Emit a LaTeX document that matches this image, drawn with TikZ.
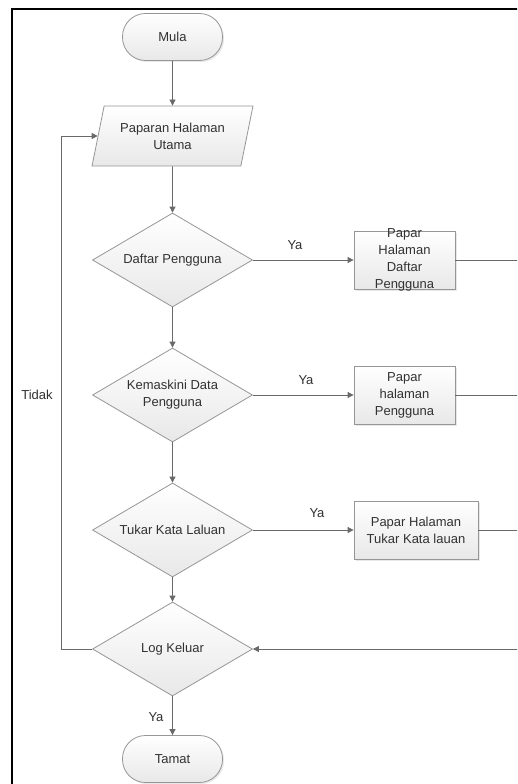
\documentclass[tikz,border=0pt]{standalone}
\usepackage{fontspec}
\setmainfont{Liberation Sans}
\usetikzlibrary{shapes.geometric,arrows.meta,shadows}
\definecolor{linegray}{RGB}{105,105,105}
\definecolor{edgegray}{RGB}{150,150,150}
\definecolor{txtgray}{RGB}{50,50,50}
\definecolor{fillbot}{RGB}{232,232,232}
\begin{document}
\begin{tikzpicture}[x=1pt,y=-1pt,
  every node/.style={font=\fontsize{13}{17}\selectfont, text=txtgray},
  shade/.style={draw=edgegray, line width=0.8pt, top color=white, bottom color=fillbot},
  soft/.style={drop shadow={opacity=0.18, shadow xshift=1.5pt, shadow yshift=-1.5pt}},
  terminal/.style={shade, soft, rectangle, rounded corners=23pt, minimum width=100pt, minimum height=47pt, inner sep=0pt},
  iobox/.style={shade, trapezium, trapezium left angle=70.7, trapezium right angle=109.3,
    trapezium stretches=true, minimum width=161pt, minimum height=60pt, inner sep=0pt, align=center},
  decision/.style={shade, diamond, aspect=1.7, minimum width=160pt, minimum height=94pt, inner sep=0pt, align=center},
  process/.style={shade, soft, rectangle, minimum height=58pt, inner sep=0pt, align=center},
  flow/.style={draw=linegray, line width=0.8pt, -{Triangle[length=6pt,width=6pt]}},
  plain/.style={draw=linegray, line width=0.8pt},
  tag/.style={inner sep=0pt}
]
\useasboundingbox (0,0) rectangle (517,784);
\clip (0,0) rectangle (517,784);
\fill[white] (0,0) rectangle (517,784);

% outer frame
\draw[black, line width=2pt] (12,800) -- (12,9) -- (540,9);

% main column
\node[terminal] (mula) at (172.5,37) {Mula};
\node[iobox] (utama) at (172.5,136) {Paparan Halaman\\Utama};
\node[decision] (d1) at (172.5,260) {Daftar Pengguna};
\node[decision] (d2) at (172.5,395) {Kemaskini Data\\Pengguna};
\node[decision] (d3) at (172.5,530) {Tukar Kata Laluan};
\node[decision] (d4) at (172.5,649) {Log Keluar};
\node[terminal] (tamat) at (172.5,759) {Tamat};

% display boxes
\node[process, minimum width=101pt,
  label={[name=b1t, align=center, inner sep=0pt]center:Papar\\Halaman\\Daftar\\Pengguna}] (b1) at (404.5,260) {};
\node[process, minimum width=101pt] (b2) at (404.5,395) {Papar\\halaman\\Pengguna};
\node[process, minimum width=124pt] (b3) at (416,530) {Papar Halaman\\Tukar Kata lauan};

% return path on the right
\coordinate (rx) at (540,260);
\coordinate (ry) at (540,649);

% connectors
\draw[flow] (mula.south) -- (utama.north);
\draw[flow] (utama.south) -- (d1.north);
\draw[flow] (d1.south) -- (d2.north);
\draw[flow] (d2.south) -- (d3.north);
\draw[flow] (d3.south) -- (d4.north);
\draw[flow] (d4.south) -- (tamat.north);

\draw[flow] (d1.east) -- (b1.west);
\draw[flow] (d2.east) -- (b2.west);
\draw[flow] (d3.east) -- (b3.west);

\draw[plain] (b1.east) -- (rx);
\draw[plain] (b2.east) -- (b2.east -| rx);
\draw[plain] (b3.east) -- (b3.east -| rx);
\draw[plain] (rx) -- (ry);
\draw[flow] (ry) -- (d4.east);

\draw[flow] (d4.west) -- ++(-31,0) |- (utama.left side);

% labels
\node[tag] (ya1) at (295,245) {Ya};
\node[tag] (ya2) at (306,380) {Ya};
\node[tag] (ya3) at (317,513) {Ya};
\node[tag] (ya4) at (156,717) {Ya};
\node[tag] (tidak) at (37,395) {Tidak};
\end{tikzpicture}
\end{document}
